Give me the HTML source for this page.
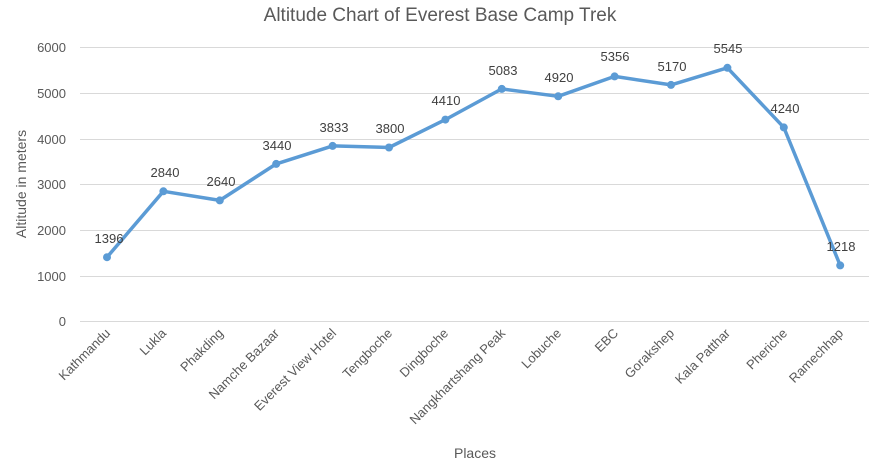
<!DOCTYPE html>
<html><head><meta charset="utf-8"><style>body{margin:0;background:#fff}svg{display:block}text{font-family:"Liberation Sans",sans-serif}</style></head><body>
<svg width="876" height="471" viewBox="0 0 876 471" xmlns="http://www.w3.org/2000/svg">
<text x="440" y="21" text-anchor="middle" font-size="19" fill="#595959">Altitude Chart of Everest Base Camp Trek</text>
<g stroke="#d9d9d9" stroke-width="1">
<line x1="80" x2="869" y1="47.5" y2="47.5"/><line x1="80" x2="869" y1="93.5" y2="93.5"/><line x1="80" x2="869" y1="139.5" y2="139.5"/><line x1="80" x2="869" y1="184.5" y2="184.5"/><line x1="80" x2="869" y1="230.5" y2="230.5"/><line x1="80" x2="869" y1="276.5" y2="276.5"/><line x1="80" x2="869" y1="321.5" y2="321.5"/>
</g>
<g font-size="13" fill="#595959" text-anchor="end">
<text x="66" y="52">6000</text><text x="66" y="98">5000</text><text x="66" y="144">4000</text><text x="66" y="189">3000</text><text x="66" y="235">2000</text><text x="66" y="281">1000</text><text x="66" y="326">0</text>
</g>
<text transform="translate(26,184) rotate(-90)" text-anchor="middle" font-size="14" fill="#595959">Altitude in meters</text>
<text x="475" y="458" text-anchor="middle" font-size="14" fill="#595959">Places</text>
<g font-size="13" fill="#595959" text-anchor="end">
<text transform="translate(111,334) rotate(-45)">Kathmandu</text>
<text transform="translate(167,334) rotate(-45)">Lukla</text>
<text transform="translate(224,334) rotate(-45)">Phakding</text>
<text transform="translate(280,334) rotate(-45)">Namche Bazaar</text>
<text transform="translate(337,334) rotate(-45)">Everest View Hotel</text>
<text transform="translate(393,334) rotate(-45)">Tengboche</text>
<text transform="translate(449,334) rotate(-45)">Dingboche</text>
<text transform="translate(506,334) rotate(-45)">Nangkhartshang Peak</text>
<text transform="translate(562,334) rotate(-45)">Lobuche</text>
<text transform="translate(619,334) rotate(-45)">EBC</text>
<text transform="translate(675,334) rotate(-45)">Gorakshep</text>
<text transform="translate(731,334) rotate(-45)">Kala Patthar</text>
<text transform="translate(788,334) rotate(-45)">Pheriche</text>
<text transform="translate(844,334) rotate(-45)">Ramechhap</text>
</g>
<polyline fill="none" stroke="#5b9bd5" stroke-width="3.5" stroke-linejoin="round" points="107,257.2 163.4,191.3 219.8,200.4 276.2,163.9 332.6,145.9 389,147.5 445.4,119.6 501.8,88.9 558.2,96.3 614.6,76.4 671,84.9 727.4,67.8 783.8,127.4 840.2,265.4"/>
<g fill="#5b9bd5">
<circle cx="107" cy="257.2" r="4"/><circle cx="163.4" cy="191.3" r="4"/><circle cx="219.8" cy="200.4" r="4"/><circle cx="276.2" cy="163.9" r="4"/><circle cx="332.6" cy="145.9" r="4"/><circle cx="389" cy="147.5" r="4"/><circle cx="445.4" cy="119.6" r="4"/><circle cx="501.8" cy="88.9" r="4"/><circle cx="558.2" cy="96.3" r="4"/><circle cx="614.6" cy="76.4" r="4"/><circle cx="671" cy="84.9" r="4"/><circle cx="727.4" cy="67.8" r="4"/><circle cx="783.8" cy="127.4" r="4"/><circle cx="840.2" cy="265.4" r="4"/>
</g>
<g font-size="13" fill="#404040" text-anchor="middle">
<text x="109" y="243">1396</text><text x="165" y="177">2840</text><text x="221" y="186">2640</text><text x="277" y="150">3440</text><text x="334" y="132">3833</text><text x="390" y="133">3800</text><text x="446" y="105">4410</text><text x="503" y="75">5083</text><text x="559" y="82">4920</text><text x="615" y="61">5356</text><text x="672" y="71">5170</text><text x="728" y="53">5545</text><text x="785" y="113">4240</text><text x="841" y="251">1218</text>
</g>
</svg>
</body></html>
